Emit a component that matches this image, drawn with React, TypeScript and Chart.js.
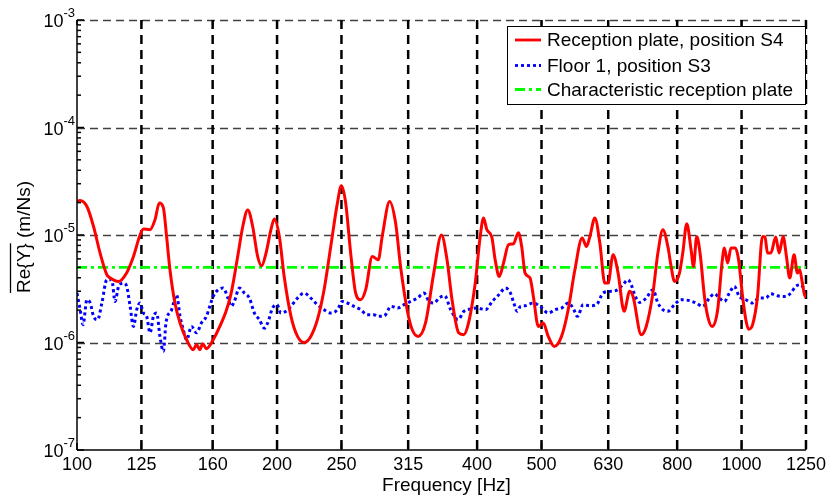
import React, { useEffect, useRef } from "react";
import { Chart, registerables } from "chart.js";
Chart.register(...registerables);

const FONT = '"Liberation Sans", Arial, Helvetica, sans-serif';

const xTicks = [100, 125, 160, 200, 250, 315, 400, 500, 630, 800, 1000, 1250];
const yDecades = [1e-7, 1e-6, 1e-5, 1e-4, 1e-3];
const yExponents = ["-7", "-6", "-5", "-4", "-3"];

const seriesNames = [
  "Reception plate, position S4",
  "Floor 1, position S3",
  "Characteristic reception plate",
];

const redFreq = [
  100, 101.0, 103.5, 105.9, 108.3, 110.9, 112.1, 115.5, 118.8, 121.6, 124.4, 125.9, 128.8, 131.0, 133.0,
  134.9, 136.4, 138.0, 140.4, 142.9, 146.2, 149.6, 151.3, 153.0, 154.6, 156.5, 160.3, 164.0, 167.9, 170.6,
  174.5, 177.6, 180.7, 183.8, 187.0, 189.6, 192.5, 195.8, 198.1, 201.6, 205.0, 209.9, 214.7, 219.7, 224.8,
  230.0, 235.4, 240.9, 246.5, 249.9, 253.7, 258.1, 262.6, 267.2, 271.9, 278.2, 284.0, 287.9, 295.4, 301.6,
  306.8, 313.9, 319.4, 326.1, 334.5, 344.2, 353.5, 360.4, 366.7, 375.2, 381.7, 388.3, 397.4, 404.3, 409.0,
  413.7, 420.9, 425.8, 431.8, 438.3, 445.9, 453.6, 461.5, 466.8, 472.3, 480.5, 486.1, 494.5, 503.0, 511.8,
  522.5, 535.9, 548.4, 561.3, 575.6, 584.3, 591.2, 601.5, 612.0, 622.6, 629.7, 640.7, 651.9, 665.6, 678.7,
  686.6, 706.3, 718.6, 735.5, 748.3, 761.3, 774.6, 783.4, 792.6, 806.4, 815.6, 827.0, 839.5, 846.5, 856.1,
  866.0, 879.3, 889.3, 902.7, 920.5, 934.4, 942.2, 952.8, 963.9, 978.6, 989.7, 1003.5, 1014.9, 1024.5, 1038.7,
  1056.8, 1075.2, 1084.4, 1094.0, 1106.5, 1125.7, 1139.0, 1154.8, 1168.2, 1181.5, 1199.5, 1213.4, 1223.0, 1234.5, 1246.0,
  1250,
];
const redVal = [
  2.05e-5, 2.09e-5, 1.84e-5, 1.2e-5, 6.83e-6, 4.27e-6, 4.0e-6, 3.7e-6, 4.45e-6, 6.31e-6, 1.0e-5, 1.14e-5, 1.12e-5, 1.38e-5, 1.98e-5,
  1.79e-5, 9.68e-6, 4.75e-6, 2.33e-6, 1.52e-6, 1.06e-6, 8.57e-7, 9.54e-7, 8.57e-7, 9.75e-7, 8.76e-7, 1.06e-6, 1.41e-6, 2.02e-6, 2.88e-6,
  6.31e-6, 1.2e-5, 1.71e-5, 1.2e-5, 6.31e-6, 5.17e-6, 6.79e-6, 1.12e-5, 1.41e-5, 9.68e-6, 4.11e-6, 1.75e-6, 1.14e-6, 1.0e-6, 1.14e-6,
  1.63e-6, 3.1e-6, 7.82e-6, 1.98e-5, 2.87e-5, 1.98e-5, 6.79e-6, 2.88e-6, 2.5e-6, 3.1e-6, 6.31e-6, 5.88e-6, 9.68e-6, 2.05e-5, 1.29e-5,
  5.1e-6, 2.02e-6, 1.32e-6, 1.14e-6, 1.52e-6, 4.42e-6, 1.0e-5, 5.88e-6, 2.5e-6, 1.23e-6, 1.18e-6, 1.52e-6, 3.57e-6, 9.68e-6, 1.44e-5,
  1.12e-5, 9.56e-6, 5.88e-6, 4.11e-6, 5.48e-6, 8.11e-6, 8.29e-6, 1.05e-5, 7.82e-6, 4.42e-6, 3.98e-6, 2.68e-6, 1.41e-6, 1.52e-6, 1.14e-6,
  9.2e-7, 1.14e-6, 2.02e-6, 4.75e-6, 9.36e-6, 7.82e-6, 9.68e-6, 1.44e-5, 8.41e-6, 3.57e-6, 3.57e-6, 6.55e-6, 4.42e-6, 1.95e-6, 2.99e-6,
  2.68e-6, 1.18e-6, 1.41e-6, 2.88e-6, 6.79e-6, 1.12e-5, 7.82e-6, 5.1e-6, 3.7e-6, 4.42e-6, 6.79e-6, 1.27e-5, 7.29e-6, 5.1e-6, 9.68e-6,
  6.79e-6, 2.68e-6, 1.75e-6, 1.41e-6, 2.02e-6, 5.48e-6, 7.56e-6, 5.48e-6, 7.56e-6, 7.56e-6, 5.88e-6, 2.68e-6, 1.63e-6, 1.33e-6, 1.46e-6,
  2.68e-6, 9.68e-6, 9.6e-6, 6.79e-6, 6.79e-6, 9.56e-6, 6.79e-6, 9.68e-6, 6.31e-6, 3.98e-6, 6.55e-6, 4.42e-6, 4.75e-6, 3.57e-6, 2.68e-6,
  2.88e-6,
];

const blueFreq = [
  100, 101.1, 102.1, 103.5, 104.7, 105.9, 107.4, 109.0, 110.9, 112.8, 114.1, 115.5, 117.5, 118.8, 120.2,
  121.6, 123.0, 124.4, 125.9, 127.3, 128.8, 130.3, 131.8, 133.3, 134.9, 136.1, 138.8, 141.2, 142.9, 144.5,
  146.2, 148.7, 151.3, 153.9, 156.6, 158.4, 160.3, 163.1, 166.0, 168.7, 170.6, 172.5, 175.5, 178.6, 181.7,
  184.9, 188.1, 191.4, 193.6, 196.9, 200.0, 202.7, 206.3, 209.9, 214.7, 219.7, 224.8, 230.0, 235.4, 240.9,
  246.5, 250.7, 255.1, 261.1, 267.2, 273.4, 279.8, 283.4, 290.0, 296.8, 303.7, 310.6, 317.8, 325.3, 332.8,
  338.6, 344.5, 350.5, 357.5, 365.0, 374.3, 382.1, 391.0, 400.2, 411.9, 421.5, 431.2, 441.3, 449.0, 454.2,
  459.5, 464.8, 472.3, 486.1, 497.4, 511.8, 524.1, 535.9, 548.4, 557.9, 566.3, 577.6, 591.2, 604.8, 618.8,
  633.3, 647.9, 663.1, 674.6, 682.3, 690.4, 702.4, 718.6, 735.5, 748.3, 761.3, 774.6, 792.6, 811.0, 835.0,
  854.1, 874.0, 894.5, 910.1, 926.0, 942.2, 958.5, 975.2, 992.1, 1014.9, 1038.7, 1062.9, 1087.5, 1106.5, 1132.4,
  1165.2, 1185.6, 1206.2, 1227.2, 1240, 1250,
];
const blueVal = [
  2.88e-6, 2.02e-6, 1.46e-6, 2.5e-6, 2.33e-6, 1.75e-6, 1.63e-6, 2.33e-6, 3.83e-6, 3.83e-6, 2.41e-6, 3.32e-6, 3.57e-6, 3.32e-6, 2.17e-6,
  1.41e-6, 2.02e-6, 2.33e-6, 1.88e-6, 1.75e-6, 1.23e-6, 1.75e-6, 1.88e-6, 1.14e-6, 8.27e-7, 1.52e-6, 2.02e-6, 2.78e-6, 1.75e-6, 1.32e-6,
  1.06e-6, 1.41e-6, 1.23e-6, 1.52e-6, 1.75e-6, 2.17e-6, 2.68e-6, 3.1e-6, 3.21e-6, 2.59e-6, 2.17e-6, 2.41e-6, 3.21e-6, 2.88e-6, 2.59e-6,
  1.88e-6, 1.63e-6, 1.36e-6, 1.52e-6, 2.09e-6, 2.25e-6, 1.88e-6, 1.95e-6, 2.17e-6, 2.59e-6, 2.88e-6, 2.59e-6, 2.25e-6, 2.02e-6, 1.88e-6,
  2.02e-6, 2.41e-6, 2.33e-6, 2.17e-6, 2.02e-6, 1.81e-6, 1.81e-6, 1.75e-6, 1.77e-6, 2.17e-6, 2.09e-6, 2.25e-6, 2.41e-6, 2.59e-6, 2.88e-6,
  2.41e-6, 2.33e-6, 2.59e-6, 2.72e-6, 2.02e-6, 1.63e-6, 1.95e-6, 2.05e-6, 2.09e-6, 2.02e-6, 2.41e-6, 2.78e-6, 3.21e-6, 2.88e-6, 2.33e-6,
  1.95e-6, 2.17e-6, 2.2e-6, 2.33e-6, 2.17e-6, 1.88e-6, 2.02e-6, 2.09e-6, 2.33e-6, 2.09e-6, 1.75e-6, 2.25e-6, 2.2e-6, 2.25e-6, 2.88e-6,
  2.99e-6, 3.05e-6, 3.45e-6, 3.83e-6, 3.45e-6, 2.78e-6, 2.36e-6, 2.59e-6, 3.1e-6, 2.33e-6, 2.02e-6, 1.95e-6, 2.25e-6, 2.5e-6, 2.45e-6,
  2.33e-6, 2.17e-6, 2.59e-6, 2.84e-6, 2.59e-6, 2.41e-6, 2.88e-6, 3.32e-6, 2.68e-6, 2.5e-6, 2.33e-6, 2.59e-6, 2.59e-6, 2.84e-6, 2.72e-6,
  2.68e-6, 2.88e-6, 3.32e-6, 3.45e-6, 3.21e-6, 2.99e-6,
];

const charFreq = [100, 1250];
const charVal = [5e-6, 5e-6];

const RED = "#ff0000";
const BLUE = "#0000ff";
const GREEN = "#00ff00";
const BLUE_DASH = [3, 3];
const GREEN_DASH = [10, 4, 3, 4];

function line(ctx: CanvasRenderingContext2D, x1: number, y1: number, x2: number, y2: number) {
  ctx.beginPath();
  ctx.moveTo(x1, y1);
  ctx.lineTo(x2, y2);
  ctx.stroke();
}

const decorPlugin = {
  id: "decor",
  beforeDatasetsDraw(chart: any) {
    const { ctx, chartArea: a, scales } = chart;
    const x = scales.x;
    const y = scales.y;
    ctx.save();
    ctx.strokeStyle = "#404040";
    ctx.lineWidth = 1.3;
    ctx.setLineDash([8, 5]);
    for (const v of yDecades) {
      if (v === yDecades[0]) continue;
      const py = Math.round(y.getPixelForValue(v)) + 0.5;
      line(ctx, a.left, py, a.right, py);
    }
    ctx.strokeStyle = "#000";
    ctx.lineWidth = 2.5;
    ctx.setLineDash([9, 6]);
    for (const v of xTicks) {
      if (v === xTicks[0]) continue;
      const px = x.getPixelForValue(v);
      line(ctx, px, a.top, px, a.bottom);
    }
    ctx.restore();
  },
  afterDatasetsDraw(chart: any) {
    const { ctx, chartArea: a, scales } = chart;
    const x = scales.x;
    const y = scales.y;
    ctx.save();
    ctx.setLineDash([]);
    ctx.strokeStyle = "#000";
    ctx.lineWidth = 1.5;
    line(ctx, a.left, a.top, a.left, a.bottom);
    line(ctx, a.left, a.bottom, a.right, a.bottom);
    for (const v of xTicks) {
      const px = x.getPixelForValue(v);
      line(ctx, px, a.bottom, px, a.bottom - 7);
      line(ctx, px, a.top, px, a.top + 5);
    }
    for (let d = 0; d < yDecades.length; d++) {
      const base = yDecades[d];
      const py = y.getPixelForValue(base);
      line(ctx, a.left, py, a.left + 7, py);
      if (d < yDecades.length - 1) {
        for (let m = 2; m <= 9; m++) {
          const pm = y.getPixelForValue(base * m);
          line(ctx, a.left, pm, a.left + 4, pm);
        }
      }
    }
    ctx.fillStyle = "#000";
    ctx.textBaseline = "alphabetic";
    for (let d = 0; d < yDecades.length; d++) {
      const py = y.getPixelForValue(yDecades[d]);
      const expX = a.left - 2;
      ctx.font = `13px ${FONT}`;
      ctx.textAlign = "right";
      const ew = ctx.measureText(yExponents[d]).width;
      ctx.fillText(yExponents[d], expX, py - 3);
      ctx.font = `18px ${FONT}`;
      ctx.fillText("10", expX - ew, py + 7);
    }
    ctx.save();
    ctx.translate(25, 237);
    ctx.rotate(-Math.PI / 2);
    ctx.font = `19px ${FONT}`;
    ctx.textAlign = "left";
    ctx.textBaseline = "middle";
    const part1 = "Re{Y}";
    const full = "Re{Y} (m/Ns)";
    const W = ctx.measureText(full).width;
    const w1 = ctx.measureText(part1).width;
    ctx.fillText(full, -W / 2, 0);
    ctx.lineWidth = 1.3;
    line(ctx, -W / 2, -14.5, -W / 2 + w1, -14.5);
    ctx.restore();
    ctx.font = `19px ${FONT}`;
    ctx.textAlign = "center";
    ctx.textBaseline = "middle";
    ctx.fillText("Frequency [Hz]", (a.left + a.right) / 2 + 5, 486);
    const lx = 507.5, ly = 26.5, lw = 298, lh = 78;
    ctx.fillStyle = "#fff";
    ctx.fillRect(lx, ly, lw, lh);
    ctx.strokeStyle = "#000";
    ctx.lineWidth = 1;
    ctx.strokeRect(lx, ly, lw, lh);
    const rows = [40, 65.5, 89.5];
    const colors = [RED, BLUE, GREEN];
    const dashes = [[], BLUE_DASH, GREEN_DASH];
    for (let i = 0; i < 3; i++) {
      ctx.strokeStyle = colors[i];
      ctx.lineWidth = 2.8;
      ctx.setLineDash(dashes[i]);
      line(ctx, 515, rows[i], 541, rows[i]);
      ctx.setLineDash([]);
      ctx.fillStyle = "#000";
      ctx.font = `19px ${FONT}`;
      ctx.textAlign = "left";
      ctx.textBaseline = "middle";
      ctx.fillText(seriesNames[i], 547, rows[i] + 1);
    }
    ctx.restore();
  },
};

export default function App() {
  const ref = useRef<HTMLCanvasElement | null>(null);
  useEffect(() => {
    document.body.style.margin = "0";
    const canvas = ref.current;
    if (!canvas) return;
    const toPts = (xs: number[], ys: number[]) => xs.map((f, i) => ({ x: f, y: ys[i] }));
    const chart = new Chart(canvas, {
      type: "line",
      data: {
        datasets: [
          {
            label: seriesNames[0],
            data: toPts(redFreq, redVal),
            borderColor: RED,
            borderWidth: 3,
            cubicInterpolationMode: "monotone",
            pointRadius: 0,
          },
          {
            label: seriesNames[1],
            data: toPts(blueFreq, blueVal),
            borderColor: BLUE,
            borderWidth: 3,
            borderDash: BLUE_DASH,
            cubicInterpolationMode: "monotone",
            pointRadius: 0,
          },
          {
            label: seriesNames[2],
            data: toPts(charFreq, charVal),
            borderColor: GREEN,
            borderWidth: 2.8,
            borderDash: GREEN_DASH,
            pointRadius: 0,
          },
        ],
      },
      options: {
        responsive: false,
        animation: false,
        devicePixelRatio: 1,
        layout: { padding: { left: 0, top: 20, right: 21, bottom: 0 } },
        plugins: { legend: { display: false }, tooltip: { enabled: false } },
        elements: { point: { radius: 0 } },
        scales: {
          x: {
            type: "logarithmic",
            min: 100,
            max: 1250,
            afterBuildTicks: (s: any) => {
              s.ticks = xTicks.map((v) => ({ value: v }));
            },
            afterFit: (s: any) => {
              s.height = 49;
            },
            grid: { display: false, drawTicks: false },
            border: { display: false },
            ticks: {
              autoSkip: false,
              maxRotation: 0,
              minRotation: 0,
              padding: 4,
              color: "#000",
              font: { family: FONT, size: 18 },
              callback: (v: any) => String(v),
            },
          },
          y: {
            type: "logarithmic",
            min: 1e-7,
            max: 1e-3,
            afterFit: (s: any) => {
              s.width = 77;
            },
            grid: { display: false, drawTicks: false },
            border: { display: false },
            ticks: { display: false },
          },
        },
      },
      plugins: [decorPlugin],
    } as any);
    return () => chart.destroy();
  }, []);
  return (
    <div style={{ width: 830, height: 499, background: "#fff" }}>
      <canvas ref={ref} width={830} height={499} style={{ display: "block" }} />
    </div>
  );
}
